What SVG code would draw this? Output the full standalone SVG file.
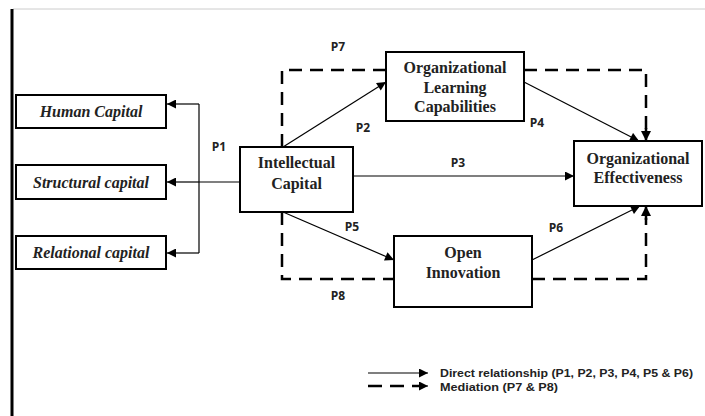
<svg xmlns="http://www.w3.org/2000/svg" width="705" height="416" viewBox="0 0 705 416">
<defs>
<marker id="ah" viewBox="0 0 10 10" refX="10" refY="5" markerWidth="10" markerHeight="9" markerUnits="userSpaceOnUse" orient="auto"><path d="M0,0 L10,5 L0,10 z" fill="#000"/></marker>
<marker id="ahd" viewBox="0 0 10 10" refX="10" refY="5" markerWidth="10" markerHeight="10" markerUnits="userSpaceOnUse" orient="auto"><path d="M0,0 L10,5 L0,10 z" fill="#000"/></marker>
<style>
.box{fill:#fff;stroke:#000;stroke-width:2}
.t{font-family:"Liberation Serif","Times New Roman",serif;font-weight:bold;font-size:16px;fill:#222;text-anchor:middle}
.ti{font-style:italic}
.lab{font-family:"Open Sans","Liberation Sans",sans-serif;font-weight:bold;font-size:12px;fill:#222;text-anchor:middle}
.leg{font-family:"Liberation Sans",Arial,sans-serif;font-weight:bold;font-size:11px;fill:#222}
.s{fill:none;stroke:#000;stroke-width:1.2}
.d{fill:none;stroke:#000;stroke-width:2.5;stroke-dasharray:13 8}
</style>
</defs>
<rect width="705" height="416" fill="#fff"/>
<line x1="13" y1="9" x2="705" y2="9" stroke="#ccc" stroke-width="1"/>
<line x1="12" y1="9" x2="12" y2="416" stroke="#000" stroke-width="3"/>

<g id="connectors">
<polyline class="s" points="240,182 199,182"/>
<polyline class="s" points="199,104 199,253"/>
<line class="s" x1="199" y1="104" x2="167" y2="104" marker-end="url(#ah)"/>
<line class="s" x1="199" y1="182" x2="167" y2="182" marker-end="url(#ah)"/>
<line class="s" x1="199" y1="253" x2="167" y2="253" marker-end="url(#ah)"/>
<line class="s" x1="283" y1="147" x2="386" y2="82" marker-end="url(#ah)"/>
<line class="s" x1="353" y1="176" x2="574" y2="176" marker-end="url(#ah)"/>
<line class="s" x1="524" y1="82" x2="639" y2="141" marker-end="url(#ah)"/>
<line class="s" x1="283" y1="212" x2="394" y2="260" marker-end="url(#ah)"/>
<line class="s" x1="532" y1="260" x2="640" y2="206" marker-end="url(#ah)"/>
<polyline class="d" points="282,147 282,70 386,70"/>
<polyline class="d" points="524,70 646,70 646,130"/>
<line x1="646" y1="128" x2="646" y2="141" stroke="#000" stroke-width="2.5" marker-end="url(#ahd)"/>
<polyline class="d" points="282,212 282,279 394,279"/>
<polyline class="d" points="532,279 646,279 646,218"/>
<line x1="646" y1="220" x2="646" y2="206" stroke="#000" stroke-width="2.5" marker-end="url(#ahd)"/>
</g>

<g id="labels">
<text class="lab" x="219" y="151">P1</text>
<text class="lab" x="338" y="51">P7</text>
<text class="lab" x="363" y="132">P2</text>
<text class="lab" x="458" y="167">P3</text>
<text class="lab" x="537" y="127">P4</text>
<text class="lab" x="352" y="231">P5</text>
<text class="lab" x="556" y="232">P6</text>
<text class="lab" x="338" y="300">P8</text>
</g>

<g id="human">
<rect class="box" x="16" y="95" width="150" height="33"/>
<text class="t ti" x="91" y="117">Human Capital</text>
</g>
<g id="structural">
<rect class="box" x="16" y="165" width="150" height="34"/>
<text class="t ti" x="91" y="188">Structural capital</text>
</g>
<g id="relational">
<rect class="box" x="16" y="236" width="150" height="33"/>
<text class="t ti" x="91" y="258">Relational capital</text>
</g>
<g id="intellectual">
<rect class="box" x="240" y="147" width="113" height="65"/>
<text class="t" x="296.5" y="168">Intellectual</text>
<text class="t" x="296.5" y="189">Capital</text>
</g>
<g id="olc">
<rect class="box" x="386" y="52" width="138" height="69"/>
<text class="t" x="455" y="73">Organizational</text>
<text class="t" x="455" y="93">Learning</text>
<text class="t" x="455" y="112">Capabilities</text>
</g>
<g id="oe">
<rect class="box" x="574" y="141" width="128" height="65"/>
<text class="t" x="638" y="164">Organizational</text>
<text class="t" x="638" y="183">Effectiveness</text>
</g>
<g id="oi">
<rect class="box" x="394" y="236" width="138" height="71"/>
<text class="t" x="463" y="258">Open</text>
<text class="t" x="463" y="278">Innovation</text>
</g>

<g id="legend">
<line class="s" x1="368" y1="373" x2="428" y2="373" marker-end="url(#ah)"/>
<line x1="368" y1="386" x2="420" y2="386" stroke="#000" stroke-width="2.5" stroke-dasharray="14 8"/>
<line x1="420" y1="386" x2="428" y2="386" stroke="#000" stroke-width="1" marker-end="url(#ah)"/>
<text class="leg" x="440" y="377" textLength="253" lengthAdjust="spacingAndGlyphs">Direct relationship (P1, P2, P3, P4, P5 &amp; P6)</text>
<text class="leg" x="440" y="391" textLength="118" lengthAdjust="spacingAndGlyphs">Mediation (P7 &amp; P8)</text>
</g>
</svg>
